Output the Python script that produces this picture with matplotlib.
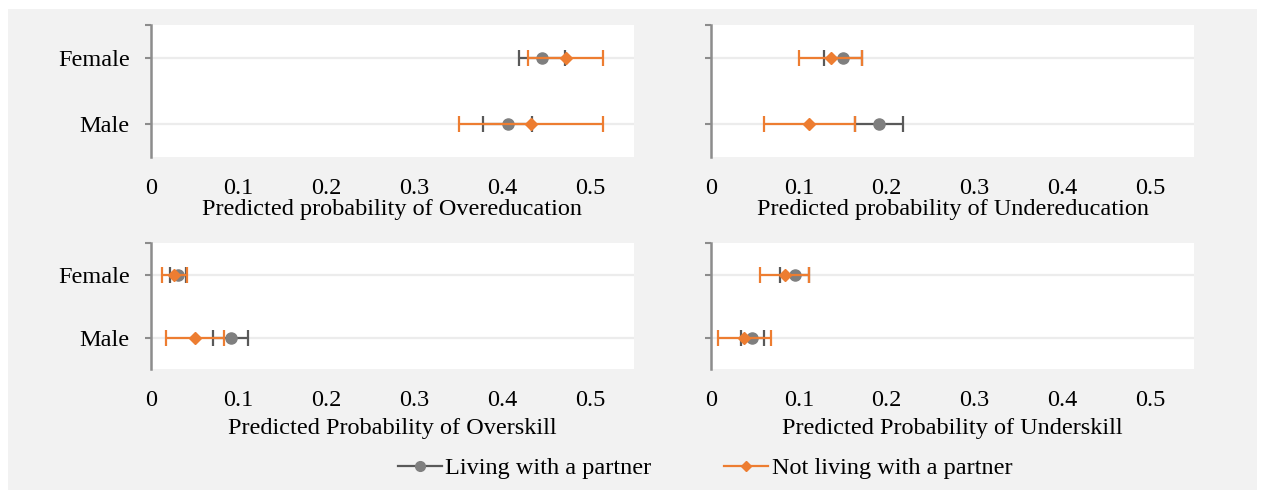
import matplotlib
matplotlib.use('Agg')
import matplotlib.pyplot as plt
from matplotlib.lines import Line2D
from matplotlib.patches import Rectangle

plt.rcParams['font.family'] = ['Liberation Serif', 'DejaVu Serif']

# Категории по оси Y (снизу вверх)
categories = ['Male', 'Female']
x_ticks = [0, 0.1, 0.2, 0.3, 0.4, 0.5]
x_tick_labels = ['0', '0.1', '0.2', '0.3', '0.4', '0.5']

# Вероятности и полуширина доверительных интервалов: [Male, Female]
overeducation_living = [0.406, 0.445]
overeducation_living_err = [0.028, 0.026]
overeducation_not = [0.433, 0.472]
overeducation_not_err = [0.082, 0.043]

undereducation_living = [0.191, 0.150]
undereducation_living_err = [0.027, 0.022]
undereducation_not = [0.112, 0.136]
undereducation_not_err = [0.052, 0.036]

overskill_living = [0.091, 0.031]
overskill_living_err = [0.020, 0.009]
overskill_not = [0.050, 0.027]
overskill_not_err = [0.033, 0.014]

underskill_living = [0.047, 0.095]
underskill_living_err = [0.013, 0.017]
underskill_not = [0.038, 0.084]
underskill_not_err = [0.030, 0.028]

panel_titles = ['Predicted probability of Overeducation',
                'Predicted probability of Undereducation',
                'Predicted Probability of Overskill',
                'Predicted Probability of Underskill']

GREY = '#7f7f7f'
GREY_BAR = '#595959'
ORANGE = '#ed7d31'
AXIS = '#8c8c8c'
FS = 17.5

W, H = 1264, 490
fig = plt.figure(figsize=(W / 100, H / 100), dpi=100)
fig.patch.set_facecolor('white')
fig.patches.append(Rectangle((8 / W, 0), (1257 - 8) / W, (H - 9) / H,
                             transform=fig.transFigure, facecolor='#f2f2f2',
                             edgecolor='none', zorder=-10))

# Позиции областей построения в пикселях: (левый край, верх, низ)
boxes = [(150.7, 25, 157), (711, 25, 157), (150.7, 243, 369), (711, 243, 369)]
ax_width = 0.55 * 879
labelpads = [0, 0, 5, 5]

panels = [
    (overeducation_living, overeducation_living_err, overeducation_not, overeducation_not_err),
    (undereducation_living, undereducation_living_err, undereducation_not, undereducation_not_err),
    (overskill_living, overskill_living_err, overskill_not, overskill_not_err),
    (underskill_living, underskill_living_err, underskill_not, underskill_not_err),
]

ypos = list(range(len(categories)))

for i, (box, data, title) in enumerate(zip(boxes, panels, panel_titles)):
    left, top, bottom = box
    ax = fig.add_axes([left / W, 1 - bottom / H, ax_width / W, (bottom - top) / H])
    ax.set_facecolor('white')
    living, living_err, not_living, not_living_err = data

    for y in ypos:
        ax.axhline(y, color='#ececec', lw=1.6, zorder=0)

    ax.errorbar(living, ypos, xerr=living_err, fmt='o', color=GREY,
                ecolor=GREY_BAR, elinewidth=1.6, capsize=5.5, capthick=1.6,
                markersize=8, zorder=2)
    ax.errorbar(not_living, ypos, xerr=not_living_err, fmt='D', color=ORANGE,
                ecolor=ORANGE, elinewidth=1.6, capsize=5.5, capthick=1.6,
                markersize=6.5, zorder=3)

    ax.set_xlim(0, 0.55)
    ax.set_ylim(-0.5, 1.5)
    ax.set_xticks(x_ticks)
    ax.set_xticklabels(x_tick_labels, fontsize=FS)
    ax.tick_params(axis='x', length=0, pad=15)
    ax.set_yticks(ypos)
    ax.set_yticks([1.5], minor=True)
    if i % 2 == 0:
        ax.set_yticklabels(categories, fontsize=FS)
    else:
        ax.set_yticklabels([])
    ax.tick_params(axis='y', which='both', length=4, width=1.5, color=AXIS, pad=11)
    ax.set_xlabel(title, fontsize=FS, labelpad=labelpads[i])

    for side in ['top', 'right', 'bottom']:
        ax.spines[side].set_visible(False)
    ax.spines['left'].set_color(AXIS)
    ax.spines['left'].set_linewidth(1.8)

# Общая легенда снизу
handles = [
    Line2D([], [], color=GREY_BAR, lw=1.6, marker='o', markersize=7,
           markerfacecolor=GREY, markeredgecolor=GREY),
    Line2D([], [], color=ORANGE, lw=1.6, marker='D', markersize=5.5,
           markerfacecolor=ORANGE, markeredgecolor=ORANGE),
]
fig.legend(handles, ['Living with a partner', 'Not living with a partner'],
           loc='center', bbox_to_anchor=(705 / W, 1 - 468 / H), ncol=2,
           frameon=False, fontsize=FS, handlelength=1.8, handletextpad=0.15,
           columnspacing=3.0)

fig.savefig('out.png', dpi=100, facecolor=fig.get_facecolor())
